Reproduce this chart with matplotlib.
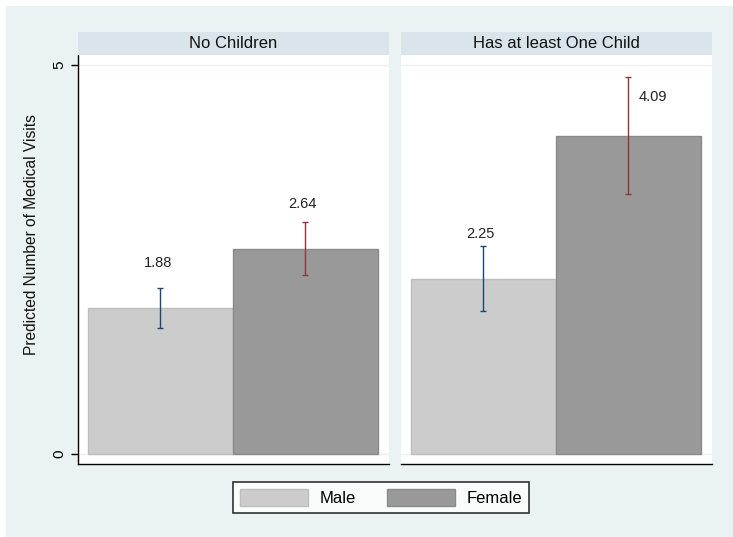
import matplotlib
matplotlib.use("Agg")
import matplotlib.pyplot as plt
from matplotlib.patches import Rectangle, Patch

plt.rcParams['font.family'] = ['Liberation Sans', 'DejaVu Sans']

# ---- data ----
groups = ["No Children", "Has at least One Child"]
sexes = ["Male", "Female"]
male_means = [1.88, 2.25]
female_means = [2.64, 4.09]
male_lo = [1.62, 1.84]
male_hi = [2.13, 2.67]
female_lo = [2.30, 3.34]
female_hi = [2.98, 4.85]
yticks = [0, 5]
ylabel = "Predicted Number of Medical Visits"

# ---- style ----
W, H = 733, 537
bg = "#eaf2f3"
strip_col = "#d9e5eb"
bar_face = ["#cccccc", "#999999"]
bar_edge = ["#bdbdbd", "#8a8a8a"]
err_col = ["#1a476f", "#90353b"]

fig = plt.figure(figsize=(W / 100, H / 100), dpi=100)
fig.patch.set_facecolor("white")
fig.patches.append(Rectangle((6 / W, 0), 1 - 6 / W, 1 - 6 / H, transform=fig.transFigure,
                             facecolor=bg, edgecolor="none", zorder=-10))

def fx(px):
    return px / W

def fy(py):
    return 1 - py / H

ax_top, ax_bot = 55, 464
panel_lefts = [78, 401]
panel_w = 311

for gi, g in enumerate(groups):
    left = panel_lefts[gi]
    ax = fig.add_axes([fx(left), fy(ax_bot), panel_w / W, (ax_bot - ax_top) / H])
    ax.set_facecolor("white")
    means = [male_means[gi], female_means[gi]]
    los = [male_lo[gi], female_lo[gi]]
    his = [male_hi[gi], female_hi[gi]]
    for si in range(2):
        ax.bar(si, means[si], width=1.0, color=bar_face[si], edgecolor=bar_edge[si],
               linewidth=1.0, zorder=2)
        ax.errorbar(si, means[si], yerr=[[means[si] - los[si]], [his[si] - means[si]]],
                    fmt="none", ecolor=err_col[si], elinewidth=1.0, capsize=2.3,
                    capthick=1.0, zorder=3)
        if means[si] + 0.58 > his[si] + 0.05:
            ax.text(si - 0.02, means[si] + 0.58, f"{means[si]:.2f}", ha="center", va="center",
                    fontsize=10.5, color="#222222", zorder=4)
        else:
            ax.text(si + 0.07, means[si] + 0.50, f"{means[si]:.2f}", ha="left", va="center",
                    fontsize=10.5, color="#222222", zorder=4)
    for yv in yticks:
        ax.axhline(yv, color=bg, linewidth=1.0, zorder=1)
    ax.set_xlim(-0.569, 1.576)
    ax.set_ylim(-0.13, 5.13)
    ax.set_xticks([])
    for s in ["top", "right"]:
        ax.spines[s].set_visible(False)
    ax.spines["bottom"].set_linewidth(1.0)
    ax.spines["bottom"].set_color("black")
    if gi == 0:
        ax.spines["left"].set_linewidth(1.0)
        ax.set_yticks(yticks)
        ax.set_yticklabels([str(t) for t in yticks], rotation=90, va="center", fontsize=11)
        ax.tick_params(axis="y", length=5, width=1.0, pad=3.5)
    else:
        ax.spines["left"].set_visible(False)
        ax.set_yticks([])
    # strip
    fig.patches.append(Rectangle((fx(left), fy(ax_top)), panel_w / W, 23 / H,
                                 transform=fig.transFigure, facecolor=strip_col,
                                 edgecolor="none", zorder=1))
    fig.text(fx(left + panel_w / 2), fy(43.5), g, ha="center", va="center", fontsize=12,
             color="#111111")

fig.text(fx(32), fy(235), ylabel, rotation=90, ha="center", va="center", fontsize=11.2,
         color="#111111")

handles = [Patch(facecolor=bar_face[i], edgecolor=bar_edge[i], linewidth=1.0) for i in range(2)]
leg = fig.legend(handles, sexes, loc="center", bbox_to_anchor=(fx(381), fy(497.5)), ncol=2,
                 fontsize=12, frameon=True, fancybox=False, shadow=False,
                 handlelength=4.1, handleheight=1.15, handletextpad=0.65,
                 columnspacing=1.9, borderpad=0.45, borderaxespad=0)
leg.get_frame().set_edgecolor("black")
leg.get_frame().set_linewidth(1.2)
leg.get_frame().set_facecolor("white")

fig.savefig("out.png", dpi=100, facecolor=fig.get_facecolor())
